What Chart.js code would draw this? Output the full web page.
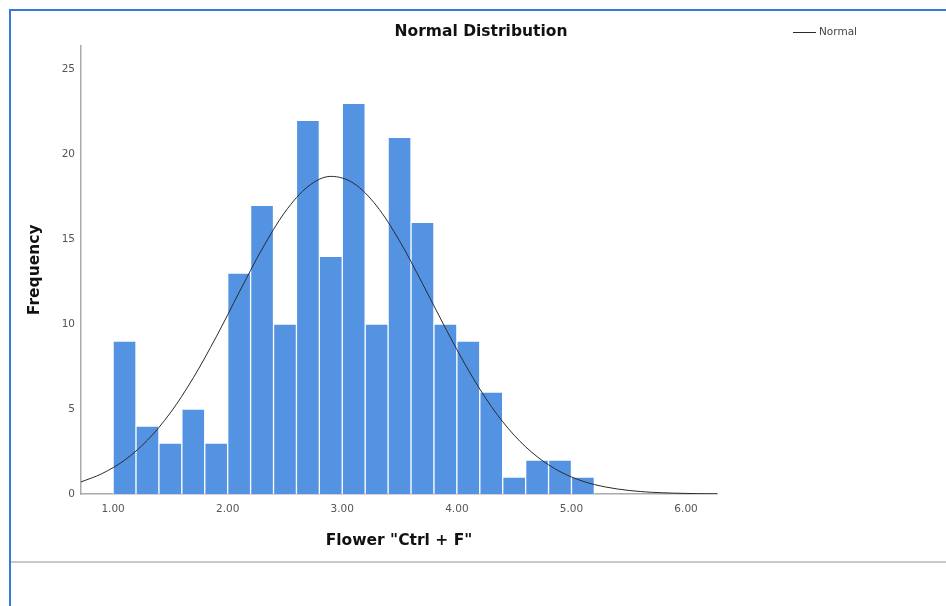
<!DOCTYPE html>
<html>
<head>
<meta charset="utf-8">
<script src="https://cdn.jsdelivr.net/npm/chart.js@4.4.0/dist/chart.umd.min.js"></script>
<style>
    body { margin: 0; background: #fff; }
    #frame { position: absolute; left: 9px; top: 9px; width: 937px; height: 597px; border-top: 2px solid #3b77d9; border-left: 2px solid #3b77d9; }
    #box { position: absolute; left: 11px; top: 11px; width: 935px; height: 550px; }
    #rule { position: absolute; left: 11px; top: 561px; width: 935px; height: 2px; background: #c8c8c8; }
</style>
</head>
<body>
<div id="frame"></div>
<div id="box"><canvas id="myChart" width="935" height="550"></canvas></div>
<div id="rule"></div>
<script>
// histogram bins (width 0.2), centre of each bin
var binMid = [1.1, 1.3, 1.5, 1.7, 1.9, 2.1, 2.3, 2.5, 2.7, 2.9, 3.1, 3.3, 3.5, 3.7, 3.9, 4.1, 4.3, 4.5, 4.7, 4.9, 5.1];
var frequency = [9, 4, 3, 5, 3, 13, 17, 10, 22, 14, 23, 10, 21, 16, 10, 9, 6, 1, 2, 2, 1];

// normal curve
var curveX = [0.72, 0.9, 1.1, 1.3, 1.5, 1.7, 1.9, 2.1, 2.3, 2.5, 2.7, 2.9, 3.1, 3.3, 3.5, 3.7, 3.9, 4.1, 4.3, 4.5, 4.7, 4.9, 5.1, 5.3, 5.5, 5.7, 5.9, 6.1, 6.27];
var curveY = [0.71, 1.19, 1.99, 3.17, 4.78, 6.84, 9.25, 11.87, 14.42, 16.6, 18.1, 18.7, 18.29, 16.96, 14.9, 12.39, 9.77, 7.3, 5.16, 3.46, 2.2, 1.32, 0.75, 0.41, 0.21, 0.1, 0.05, 0.02, 0.01];

var xTicks = [1, 2, 3, 4, 5, 6];
var yTicks = [0, 5, 10, 15, 20, 25];

var barData = [];
for (var i = 0; i < binMid.length; i++) {
    barData.push({ x: binMid[i], y: frequency[i] });
}
var lineData = [];
for (var j = 0; j < curveX.length; j++) {
    lineData.push({ x: curveX[j], y: curveY[j] });
}

var titleFont = { family: 'DejaVu Sans', size: 15.5, weight: 'bold' };
var tickFont = { family: 'DejaVu Sans', size: 10.5 };

// the "Normal" legend sits on the same row as the title
var normalLegend = {
    id: 'normalLegend',
    afterDraw: function (chart) {
        var ds = chart.data.datasets[1];
        var ctx = chart.ctx;
        var x = 782, y = 21;
        ctx.save();
        ctx.strokeStyle = ds.borderColor;
        ctx.lineWidth = 1;
        ctx.beginPath();
        ctx.moveTo(x, y + 0.5);
        ctx.lineTo(x + 23, y + 0.5);
        ctx.stroke();
        ctx.fillStyle = '#444';
        ctx.font = '10.5px "DejaVu Sans"';
        ctx.textBaseline = 'middle';
        ctx.fillText(ds.label, x + 26, y);
        ctx.restore();
    }
};

new Chart("myChart", {
    type: "bar",
    data: {
        datasets: [{
            label: "Frequency",
            data: barData,
            backgroundColor: "#5393e2",
            borderColor: "rgba(255,255,255,0.8)",
            borderWidth: 1,
            barPercentage: 1,
            categoryPercentage: 1,
            order: 2
        }, {
            type: "line",
            label: "Normal",
            data: lineData,
            borderColor: "#2b2b2b",
            borderWidth: 1,
            pointRadius: 0,
            cubicInterpolationMode: "monotone",
            fill: false,
            order: 1
        }]
    },
    options: {
        responsive: false,
        animation: false,
        layout: { padding: { left: 5, right: 0, top: 0, bottom: 0 } },
        plugins: {
            legend: { display: false },
            tooltip: { enabled: false },
            title: {
                display: true,
                text: "Normal Distribution",
                color: "#111",
                font: titleFont,
                padding: { top: 12, bottom: 4 }
            }
        },
        scales: {
            x: {
                type: "linear",
                min: 0.72,
                max: 6.27,
                offset: false,
                grid: { display: false, drawTicks: false },
                border: { display: true, color: "#aaa", width: 1.5 },
                afterBuildTicks: function (scale) {
                    scale.ticks = xTicks.map(function (v) { return { value: v }; });
                },
                afterFit: function (scale) { scale.height = 67; },
                ticks: {
                    padding: 9,
                    color: "#555",
                    font: tickFont,
                    maxRotation: 0,
                    callback: function (v) { return Number(v).toFixed(2); }
                },
                title: {
                    display: true,
                    text: 'Flower "Ctrl + F"',
                    color: "#111",
                    font: titleFont,
                    padding: { top: 0, bottom: 11 }
                }
            },
            y: {
                min: 0,
                max: 26.4,
                grid: { display: false, drawTicks: false },
                border: { display: true, color: "#aaa", width: 1.5 },
                afterBuildTicks: function (scale) {
                    scale.ticks = yTicks.map(function (v) { return { value: v }; });
                },
                afterFit: function (scale) { scale.width = 65; },
                ticks: { padding: 6, color: "#555", font: tickFont },
                title: {
                    display: true,
                    text: "Frequency",
                    color: "#111",
                    font: titleFont,
                    padding: { top: 10, bottom: 0 }
                }
            },
            yRight: {
                type: "linear",
                position: "right",
                grid: { display: false, drawTicks: false },
                border: { display: false },
                ticks: { display: false },
                afterFit: function (scale) { scale.width = 229; }
            }
        }
    },
    plugins: [normalLegend]
});
</script>
</body>
</html>
